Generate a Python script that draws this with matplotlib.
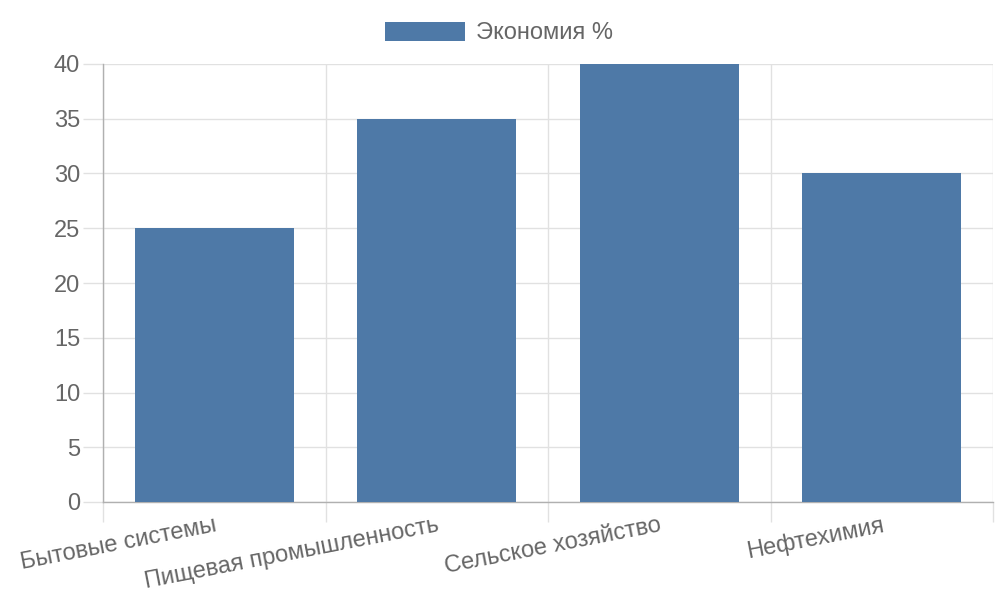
import matplotlib
matplotlib.use("Agg")
import matplotlib.pyplot as plt
from matplotlib.patches import Patch
import numpy as np

categories = ["Бытовые системы", "Пищевая промышленность", "Сельское хозяйство", "Нефтехимия"]
values = [25, 35, 40, 30]
series_name = "Экономия %"
y_ticks = [0, 5, 10, 15, 20, 25, 30, 35, 40]

plt.rcParams['font.family'] = ['Liberation Sans', 'DejaVu Sans']
bar_color = "#4e79a7"
text_color = "#666666"
grid_color = "#e1e1e1"
axis_color = "#b0b0b0"
fs = 17

fig = plt.figure(figsize=(10, 6), dpi=100)
ax = fig.add_axes([0.103, 1 - 502 / 600, 0.890, (502 - 64) / 600])

x = np.arange(len(categories))
ax.bar(x, values, width=0.715, color=bar_color, zorder=3)

ax.set_xlim(-0.5, len(categories) - 0.5)
ax.set_ylim(0, 40)

# y axis
ax.set_yticks(y_ticks)
ax.tick_params(axis='y', length=14.4, width=1, color=grid_color, labelsize=fs,
               labelcolor=text_color, pad=2)
ax.yaxis.grid(True, color=grid_color, linewidth=1, zorder=0)

# x axis: major ticks at boundaries (grid), minor ticks at centers (labels)
bounds = np.arange(-0.5, len(categories), 1.0)
ax.set_xticks(bounds)
ax.set_xticklabels([])
ax.set_xticks(x, minor=True)
ax.set_xticklabels(categories, minor=True, rotation=11, ha='right', va='top',
                   rotation_mode='anchor')
ax.tick_params(axis='x', which='major', length=14.4, width=1, color=grid_color)
ax.tick_params(axis='x', which='minor', length=0, labelsize=fs,
               labelcolor=text_color, pad=9)
ax.xaxis.grid(True, which='major', color=grid_color, linewidth=1, zorder=0)

for s in ['top', 'right']:
    ax.spines[s].set_visible(False)
for s in ['left', 'bottom']:
    ax.spines[s].set_color(axis_color)
    ax.spines[s].set_linewidth(1)

handle = Patch(facecolor=bar_color, edgecolor='none')
fig.legend([handle], [series_name], loc='center', bbox_to_anchor=(0.499, 1 - 33 / 600),
           frameon=False, fontsize=fs, labelcolor=text_color,
           handlelength=80 / (fs * 100 / 72), handleheight=21 / (fs * 100 / 72),
           handletextpad=0.5)

fig.savefig("out.png", dpi=100, facecolor='white')
